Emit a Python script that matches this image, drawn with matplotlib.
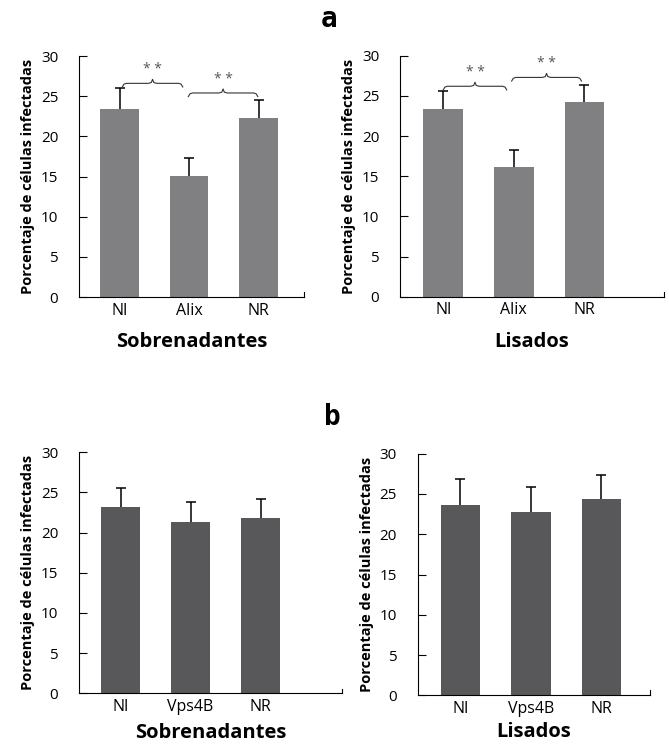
import matplotlib.pyplot as plt

plt.rcParams['font.family'] = ['Open Sans', 'DejaVu Sans']

cats_a = ["NI", "Alix", "NR"]
cats_b = ["NI", "Vps4B", "NR"]

sobre_a = [23.4, 15.1, 22.3]
sobre_a_err = [2.6, 2.2, 2.2]
lisa_a = [23.4, 16.2, 24.2]
lisa_a_err = [2.2, 2.1, 2.1]

sobre_b = [23.2, 21.3, 21.8]
sobre_b_err = [2.4, 2.5, 2.4]
lisa_b = [23.6, 22.8, 24.4]
lisa_b_err = [3.3, 3.1, 3.0]

# significance braces: (x start, x end, height)
braces_sobre = [(0.04, 0.91, 26.6), (0.99, 1.99, 25.4)]
braces_lisa = [(0.0, 0.9, 26.2), (0.97, 1.96, 27.3)]

ylabel = "Porcentaje de células infectadas"


def brace(ax, x0, x1, y):
    xm = (x0 + x1) / 2
    d = 0.06
    xs = [x0, x0 + d * 0.4, x0 + d, xm - d, xm - d * 0.3, xm, xm + d * 0.3, xm + d, x1 - d, x1 - d * 0.4, x1]
    ys = [y - 0.45, y - 0.1, y, y, y + 0.1, y + 0.5, y + 0.1, y, y, y - 0.1, y - 0.45]
    ax.plot(xs, ys, color="#333333", lw=0.8)
    ax.text(xm, y + 0.75, "* *", ha="center", va="bottom", fontsize=10, color="#555555")


def panel(ax, cats, vals, errs, color, xlim, xlabel, xpad):
    x = range(len(cats))
    ax.bar(x, vals, width=0.56, color=color, zorder=2)
    _, caps, _ = ax.errorbar(x, vals, yerr=[[0] * len(vals), errs], fmt="none", ecolor="black",
                             elinewidth=1.1, capsize=3.8, capthick=1.1, zorder=1)
    caps[0].set_visible(False)
    ax.set_ylim(0, 30)
    ax.set_xlim(*xlim)
    ax.set_yticks(range(0, 31, 5))
    ax.set_xticks(list(x))
    ax.set_xticklabels(cats, fontsize=11.5)
    ax.tick_params(axis="y", direction="in", length=6, width=0.8, labelsize=11, pad=15)
    ax.tick_params(axis="x", length=0, pad=4)
    for s in ["top", "right"]:
        ax.spines[s].set_visible(False)
    for s in ["left", "bottom"]:
        ax.spines[s].set_linewidth(0.8)
    ax.plot([xlim[1], xlim[1]], [0, 0.6], color="black", lw=0.8, clip_on=False)
    ax.set_ylabel(ylabel, fontsize=10.5, fontweight="bold", labelpad=4)
    ax.set_xlabel(xlabel, fontsize=14.5, fontweight="bold", labelpad=xpad)


fig = plt.figure(figsize=(6.69, 7.48), dpi=100)

ax1 = fig.add_axes([0.1181, 0.6029, 0.3368, 0.3222])
panel(ax1, cats_a, sobre_a, sobre_a_err, "#808083", (-0.583, 2.659), "Sobrenadantes", 10)
for b in braces_sobre:
    brace(ax1, *b)

ax2 = fig.add_axes([0.5979, 0.6033, 0.3946, 0.3222])
panel(ax2, cats_a, lisa_a, lisa_a_err, "#808083", (-0.613, 3.13), "Lisados", 10)
for b in braces_lisa:
    brace(ax2, *b)

ax3 = fig.add_axes([0.1181, 0.0731, 0.3927, 0.3222])
panel(ax3, cats_b, sobre_b, sobre_b_err, "#58585a", (-0.593, 3.16), "Sobrenadantes", 6)

ax4 = fig.add_axes([0.6244, 0.0705, 0.3472, 0.3229])
panel(ax4, cats_b, lisa_b, lisa_b_err, "#58585a", (-0.607, 2.69), "Lisados", 4)

fig.text(0.492, 0.975, "a", ha="center", va="center", fontsize=20, fontweight="bold",
         family="DejaVu Sans Mono")
fig.text(0.497, 0.443, "b", ha="center", va="center", fontsize=20, fontweight="bold",
         family="DejaVu Sans Mono")

fig.savefig("out.png", dpi=100)
